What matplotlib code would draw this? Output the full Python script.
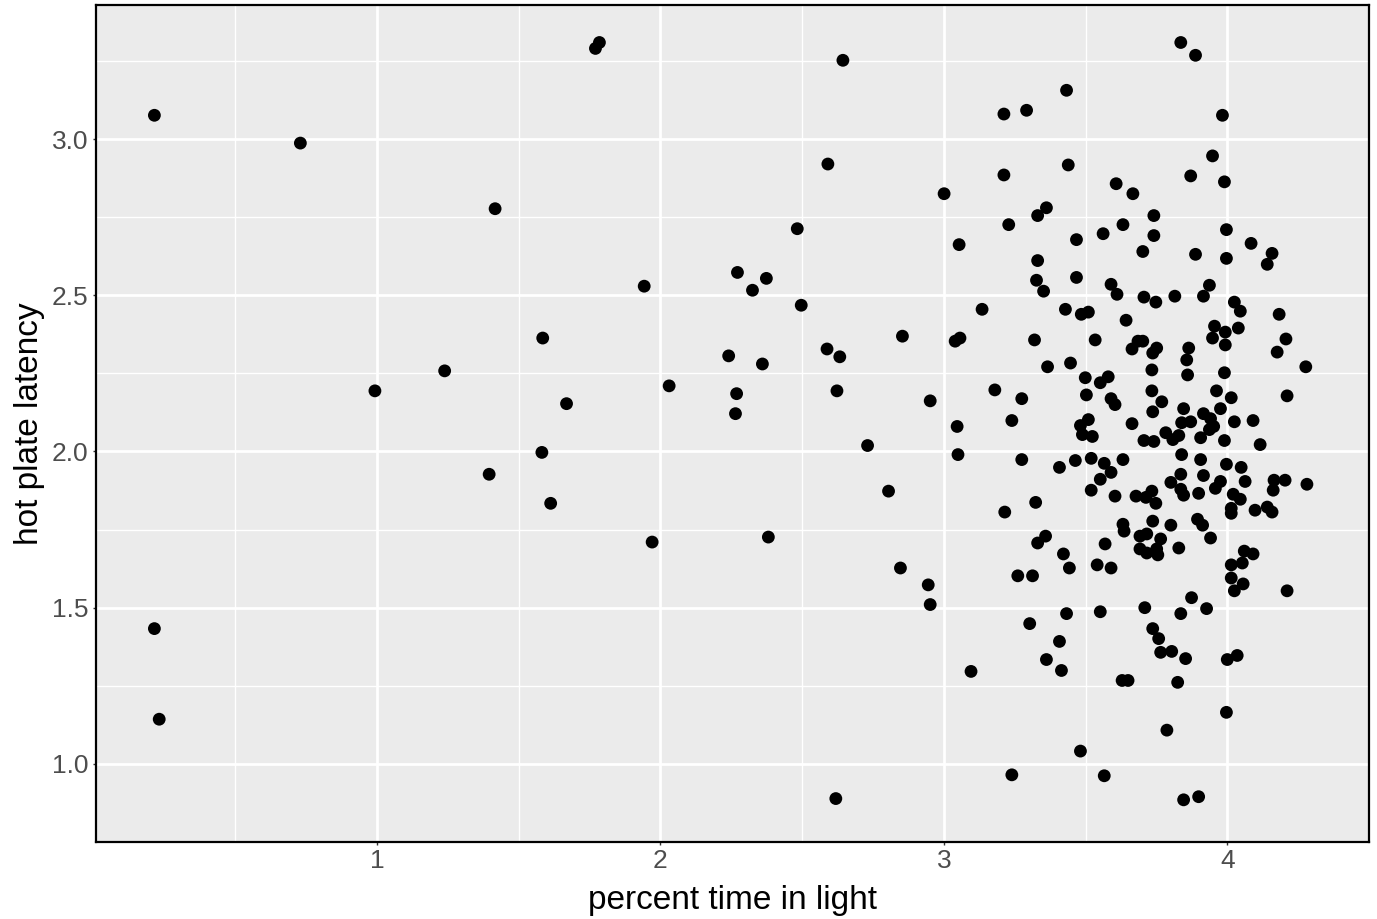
import matplotlib
matplotlib.use("Agg")
import matplotlib.pyplot as plt
import numpy as np

plt.rcParams['font.family'] = ['Liberation Sans', 'DejaVu Sans']

# percent time in light (x) and hot plate latency (y)
x_sparse = [0.215, 0.215, 0.232, 0.730, 0.993, 1.239, 1.417, 1.396, 1.585, 1.582,
            1.613, 1.669, 1.771, 1.785, 1.943, 1.971, 2.031, 2.241, 2.272, 2.269,
            2.265, 2.325, 2.374, 2.360, 2.381, 2.483, 2.497, 2.591, 2.644, 2.588,
            2.633, 2.623, 2.619, 2.731, 2.805, 2.854, 2.847, 2.952, 2.945, 2.952]
y_sparse = [3.076, 1.433, 1.143, 2.987, 2.194, 2.258, 2.777, 1.927, 2.363, 1.997,
            1.834, 2.153, 3.290, 3.309, 2.529, 1.710, 2.210, 2.306, 2.573, 2.185,
            2.121, 2.516, 2.554, 2.280, 1.726, 2.713, 2.468, 2.920, 3.252, 2.328,
            2.303, 2.194, 0.889, 2.019, 1.873, 2.369, 1.627, 2.162, 1.573, 1.510]

x_dense = [3.433, 3.212, 3.292, 3.439, 3.212, 3.001, 3.608, 3.667, 3.362, 3.331,
           3.229, 3.632, 3.836, 3.888, 3.983, 3.948, 3.871, 3.990, 3.741, 3.997,
           3.054, 3.468, 3.562, 3.331, 3.327, 3.468, 3.352, 3.590, 3.611, 3.135,
           3.429, 3.485, 3.510, 3.643, 3.040, 3.057, 3.320, 3.534, 3.685, 3.664,
           3.366, 3.447, 3.499, 3.580, 3.552, 3.180, 3.275, 3.503, 3.590, 3.604,
           3.240, 3.510, 3.741, 3.702, 3.888, 3.997, 4.084, 4.158, 4.141, 3.937,
           3.916, 3.706, 3.748, 3.815, 4.025, 4.046, 4.183, 3.955, 3.993, 4.039,
           3.948, 3.993, 4.207, 4.176, 4.277, 3.702, 3.737, 3.751, 3.864, 3.857,
           3.734, 3.860, 3.990, 3.734, 3.769, 3.737, 3.962, 4.014, 4.211, 3.846,
           3.916, 3.976, 3.871, 3.941, 3.952, 4.025, 4.091, 3.047, 3.482, 3.489,
           3.524, 3.664, 3.050, 3.275, 3.408, 3.464, 3.520, 3.566, 3.632, 3.590,
           3.552, 3.520, 3.604, 3.678, 3.324, 3.215, 3.632, 3.636, 3.359, 3.331,
           3.569, 3.422, 3.443, 3.541, 3.590, 3.261, 3.313, 3.839, 3.783, 3.808,
           3.829, 3.706, 3.741, 3.906, 3.937, 3.990, 4.116, 3.839, 3.906, 3.997,
           4.049, 3.836, 3.916, 3.801, 3.976, 3.958, 4.063, 4.165, 4.204, 4.162,
           4.281, 3.836, 3.846, 3.899, 3.713, 3.734, 3.748, 4.021, 4.046, 4.014,
           4.014, 4.098, 4.141, 4.158, 3.737, 3.801, 3.895, 3.913, 3.692, 3.716,
           3.765, 3.941, 3.692, 3.716, 3.751, 3.755, 3.829, 4.060, 4.091, 4.014,
           4.053, 4.014, 4.056, 4.025, 4.211, 3.874, 3.709, 3.927, 3.433, 3.552,
           3.303, 3.408, 3.362, 3.096, 3.415, 3.629, 3.650, 3.482, 3.240, 3.566,
           3.836, 3.737, 3.758, 3.765, 3.804, 3.853, 4.000, 4.035, 3.825, 3.997,
           3.787, 3.846, 3.899]
y_dense = [3.156, 3.080, 3.092, 2.917, 2.885, 2.825, 2.857, 2.825, 2.780, 2.755,
           2.726, 2.726, 3.309, 3.268, 3.076, 2.946, 2.882, 2.863, 2.755, 2.710,
           2.662, 2.678, 2.697, 2.611, 2.548, 2.557, 2.513, 2.535, 2.503, 2.455,
           2.455, 2.439, 2.446, 2.420, 2.353, 2.363, 2.357, 2.357, 2.353, 2.328,
           2.271, 2.283, 2.236, 2.239, 2.220, 2.197, 2.169, 2.181, 2.169, 2.150,
           2.099, 2.102, 2.691, 2.640, 2.631, 2.618, 2.666, 2.634, 2.599, 2.532,
           2.497, 2.494, 2.478, 2.497, 2.478, 2.449, 2.439, 2.401, 2.382, 2.395,
           2.363, 2.341, 2.360, 2.318, 2.271, 2.353, 2.315, 2.331, 2.331, 2.293,
           2.261, 2.245, 2.252, 2.194, 2.159, 2.127, 2.194, 2.172, 2.178, 2.137,
           2.121, 2.137, 2.095, 2.105, 2.080, 2.095, 2.099, 2.080, 2.083, 2.054,
           2.048, 2.089, 1.990, 1.974, 1.949, 1.971, 1.978, 1.962, 1.974, 1.933,
           1.911, 1.876, 1.857, 1.857, 1.837, 1.806, 1.767, 1.745, 1.729, 1.707,
           1.704, 1.672, 1.627, 1.637, 1.627, 1.602, 1.602, 2.092, 2.060, 2.038,
           2.051, 2.035, 2.032, 2.044, 2.070, 2.035, 2.022, 1.990, 1.974, 1.959,
           1.949, 1.927, 1.923, 1.901, 1.904, 1.882, 1.904, 1.908, 1.908, 1.876,
           1.895, 1.879, 1.860, 1.866, 1.853, 1.873, 1.834, 1.863, 1.847, 1.818,
           1.802, 1.812, 1.822, 1.806, 1.777, 1.764, 1.783, 1.764, 1.729, 1.736,
           1.720, 1.723, 1.688, 1.675, 1.688, 1.669, 1.691, 1.681, 1.672, 1.637,
           1.643, 1.595, 1.576, 1.554, 1.554, 1.532, 1.500, 1.497, 1.481, 1.487,
           1.449, 1.392, 1.334, 1.296, 1.299, 1.267, 1.267, 1.041, 0.965, 0.962,
           1.481, 1.433, 1.401, 1.357, 1.360, 1.337, 1.334, 1.347, 1.261, 1.165,
           1.108, 0.885, 0.895]

x_ticks = [1, 2, 3, 4]
y_ticks = [1.0, 1.5, 2.0, 2.5, 3.0]
x_label = "percent time in light"
y_label = "hot plate latency"

x = np.array(x_sparse + x_dense)
y = np.array(y_sparse + y_dense)

fig = plt.figure(figsize=(13.77, 9.19), dpi=100)
ax = fig.add_axes([96/1377, 1 - 842/919, (1369-96)/1377, (842-5)/919])
ax.set_facecolor('#EBEBEB')

ax.set_xlim(0.009, 4.471)
ax.set_ylim(0.771, 3.429)

ax.set_xticks(x_ticks)
ax.set_yticks(y_ticks)
ax.set_xticklabels([str(t) for t in x_ticks])
ax.set_yticklabels([f"{t:.1f}" for t in y_ticks])
ax.set_xticks([t - 0.5 for t in x_ticks] + [x_ticks[-1] + 0.5], minor=True)
ax.set_yticks([t - 0.25 for t in y_ticks] + [y_ticks[-1] + 0.25], minor=True)
ax.grid(which='major', color='white', linewidth=2.0)
ax.grid(which='minor', color='white', linewidth=1.0)
ax.set_axisbelow(True)
ax.tick_params(which='minor', length=0)
ax.tick_params(which='major', length=2.2, width=1.0, color='#333333',
               labelsize=19, labelcolor='#4D4D4D', pad=3.2)

for s in ax.spines.values():
    s.set_color('black')
    s.set_linewidth(1.6)

ax.scatter(x, y, s=85, color='black', edgecolors='none', zorder=3, clip_on=False)

ax.set_xlabel(x_label, fontsize=24, labelpad=8)
ax.set_ylabel(y_label, fontsize=24, labelpad=5)

fig.savefig("out.png", dpi=100)
